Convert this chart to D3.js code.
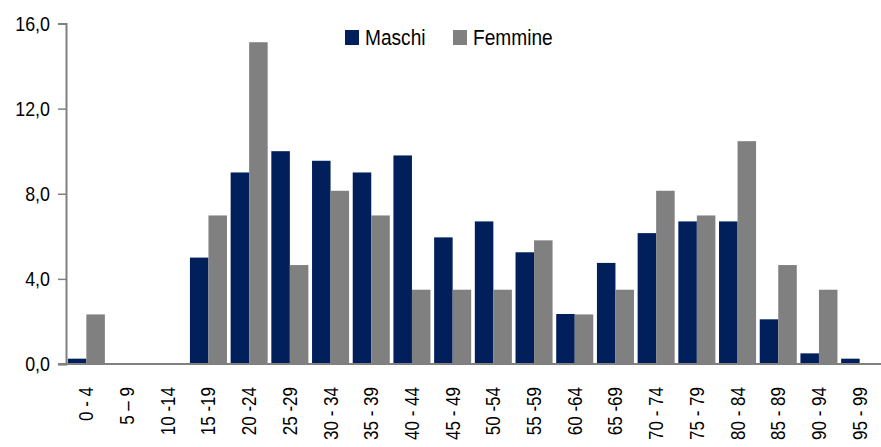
<!DOCTYPE html>
<html>
<head>
<meta charset="utf-8">
<script src="https://cdn.jsdelivr.net/npm/d3@7"></script>
<style>
  body { margin: 0; background: #fff; }
  svg text { font-family: "Liberation Sans", Arial, sans-serif; fill: #000; }
</style>
</head>
<body>
<svg id="chart" width="881" height="447"></svg>
<script>
const categories = ["0 - 4", "5 \u2013 9", "10 -14", "15 -19", "20 -24", "25 -29", "30 - 34", "35 - 39", "40 - 44", "45 - 49",
  "50 -54", "55 -59", "60 -64", "65 -69", "70 - 74", "75 - 79", "80 - 84", "85 - 89", "90 - 94", "95 - 99"];
const maschi  = [0.25, 0, 0, 5.0, 9.0, 10.0, 9.55, 9.0, 9.8, 5.95, 6.7, 5.25, 2.35, 4.75, 6.15, 6.7, 6.7, 2.1, 0.5, 0.25];
const femmine = [2.33, 0, 0, 6.98, 15.12, 4.65, 8.14, 6.98, 3.49, 3.49, 3.49, 5.81, 2.33, 3.49, 8.14, 6.98, 10.47, 4.65, 3.49, 0];
const seriesNames = ["Maschi", "Femmine"];
const yTicks = [0, 4, 8, 12, 16];

(function () {
const colors = ["#001f5b", "#808080"];
const narrow = 0.85;
const svg = d3.select("#chart");
const mLeft = 66, mRight = 880, mTop = 23.5, mBottom = 364;

const x = d3.scaleBand().domain(categories).range([mLeft, mRight]).paddingInner(0.09).paddingOuter(0.045);
const x1 = d3.scaleBand().domain(seriesNames).range([0, x.bandwidth()]);
const y = d3.scaleLinear().domain([0, 16]).range([mBottom, mTop]);

const data = categories.map((c, i) => ({ c, vals: [maschi[i], femmine[i]] }));

const g = svg.append("g");
g.selectAll("g.cat").data(data).join("g")
  .attr("transform", d => `translate(${x(d.c)},0)`)
  .selectAll("rect").data(d => d.vals.map((v, k) => ({ v, k })))
  .join("rect")
  .attr("x", d => x1(seriesNames[d.k]))
  .attr("width", x1.bandwidth())
  .attr("y", d => y(d.v))
  .attr("height", d => mBottom - y(d.v))
  .attr("fill", d => colors[d.k]);

// Y axis
const yAxis = d3.axisLeft(y).tickValues(yTicks).tickSize(8).tickPadding(8)
  .tickFormat(d => d3.format(".1f")(d).replace(".", ","));
const ya = svg.append("g").attr("transform", `translate(${mLeft},0)`).call(yAxis);
ya.select(".domain").attr("stroke", "#808080").attr("stroke-width", 2);
ya.selectAll(".tick line").attr("stroke", "#808080").attr("stroke-width", 1.5);
ya.selectAll(".tick text").attr("font-size", 21).style("fill", "#000")
  .attr("x", 0).attr("transform", `translate(-16,0) scale(${narrow},1)`);

// baseline
svg.append("line").attr("x1", mLeft - 8).attr("x2", 881).attr("y1", mBottom).attr("y2", mBottom)
  .attr("stroke", "#808080").attr("stroke-width", 2);

// X axis labels
const xa = svg.append("g").attr("transform", `translate(0,${mBottom})`)
  .call(d3.axisBottom(x).tickSize(0).tickPadding(0));
xa.select(".domain").remove();
xa.selectAll(".tick text")
  .attr("font-size", 20)
  .attr("transform", `translate(0,23) rotate(-90) scale(${narrow},1)`)
  .attr("text-anchor", "end")
  .attr("x", 0).attr("y", 0).attr("dy", "0.35em")
  .style("fill", "#000");

// Legend
const legend = svg.append("g");
const legendX = [345, 453];
seriesNames.forEach((s, i) => {
  legend.append("rect").attr("x", legendX[i]).attr("y", 30).attr("width", 14).attr("height", 15).attr("fill", colors[i]);
  legend.append("text").attr("font-size", 22.5)
    .attr("transform", `translate(${legendX[i] + 20},45) scale(${narrow},1)`).text(s);
});
})();
</script>
</body>
</html>
